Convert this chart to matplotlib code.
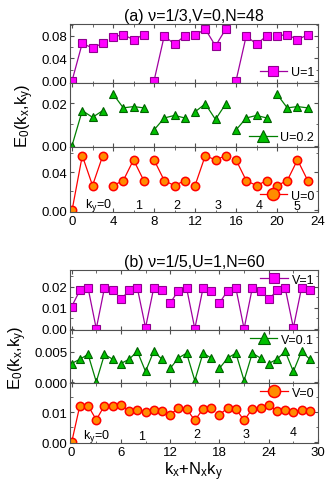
import matplotlib
matplotlib.use("Agg")
import matplotlib.pyplot as plt
from matplotlib.ticker import MultipleLocator
import numpy as np

plt.rcParams["font.family"] = ["Liberation Sans", "DejaVu Sans"]
plt.rcParams["mathtext.default"] = "regular"

# panel (a): nu=1/3, V=0, N=48, Nx=4
a_nx = 4
a_u1 = [0.0, 0.067, 0.058, 0.067, 0.078, 0.082, 0.073, 0.082,
        0.0, 0.080, 0.065, 0.080, 0.081, 0.092, 0.062, 0.092,
        0.0, 0.080, 0.065, 0.080, 0.080, 0.082, 0.073, 0.082]
a_u02 = [0.0, 0.0166, 0.0134, 0.0166, 0.0245, 0.0179, 0.0185, 0.0179,
         0.0074, 0.0131, 0.0143, 0.0131, 0.0160, 0.0198, 0.0124, 0.0198,
         0.0074, 0.0131, 0.0143, 0.0131, 0.0244, 0.0179, 0.0185, 0.0179]
a_u0 = [0.0, 0.0574, 0.0261, 0.0574, 0.0260, 0.0313, 0.0530, 0.0313,
        0.0530, 0.0313, 0.0260, 0.0313, 0.0260, 0.0574, 0.0530, 0.0574,
        0.0530, 0.0313, 0.0260, 0.0313, 0.0260, 0.0313, 0.0530, 0.0313]
a_ky_x = [2.6, 6.5, 10.2, 14.2, 18.3, 21.9]
a_ky_y = [0.006, 0.006, 0.006, 0.006, 0.006, 0.0042]

# panel (b): nu=1/5, U=1, N=60, Nx=6
b_nx = 6
b_v1 = [0.0105, 0.0182, 0.0194, 0.0, 0.0194, 0.0182,
        0.0139, 0.0182, 0.0194, 0.0005, 0.0194, 0.0182,
        0.0122, 0.0181, 0.0193, 0.0, 0.0193, 0.0180,
        0.0122, 0.0181, 0.0193, 0.0, 0.0193, 0.0180,
        0.0139, 0.0182, 0.0194, 0.0005, 0.0194, 0.0182]
b_v01 = [0.0031, 0.0038, 0.0046, 0.0001, 0.0046, 0.0038,
         0.0031, 0.0038, 0.0051, 0.0018, 0.0051, 0.0038,
         0.0023, 0.0040, 0.0048, 0.0003, 0.0048, 0.0040,
         0.0023, 0.0040, 0.0048, 0.0003, 0.0048, 0.0040,
         0.0031, 0.0038, 0.0051, 0.0018, 0.0051, 0.0038]
b_v0 = [0.0, 0.0122, 0.0122, 0.0075, 0.0122, 0.0122,
        0.0124, 0.0105, 0.0109, 0.0100, 0.0109, 0.0105,
        0.0091, 0.0115, 0.0111, 0.0073, 0.0111, 0.0115,
        0.0091, 0.0115, 0.0111, 0.0073, 0.0111, 0.0115,
        0.0124, 0.0105, 0.0109, 0.0100, 0.0109, 0.0105]
b_ky_x = [3.0, 8.5, 15.3, 21.2, 27.0]
b_ky_y = [0.0022, 0.0020, 0.0028, 0.0028, 0.0033]

STY = {
    "mag": dict(marker="s", color="#a000a0", mfc="#ff00ff", mec="#900090", ms=5.4, mew=0.8, lw=0.9),
    "grn": dict(marker="^", color="#008000", mfc="#00c000", mec="#006000", ms=6.4, mew=0.8, lw=0.9),
    "red": dict(marker="o", color="#ff0000", mfc="#ff8c00", mec="#ff0000", ms=6.0, mew=1.1, lw=0.9),
}
FRAME = "#505050"


def add_panel(fig, rect, vals, nx, sty, label, ylim, major, minor, xmax, xmajor, xminor,
              legloc, anchor, show_x=False):
    ax = fig.add_axes(rect)
    x = np.arange(len(vals))
    v = np.asarray(vals)
    h = None
    for g in range(0, len(vals), nx):
        ln, = ax.plot(x[g:g + nx], v[g:g + nx], **STY[sty])
        if h is None:
            h = ln
    ax.set_xlim(-0.2, xmax)
    ax.set_ylim(*ylim)
    ax.xaxis.set_major_locator(MultipleLocator(xmajor))
    ax.xaxis.set_minor_locator(MultipleLocator(xminor))
    ax.yaxis.set_major_locator(MultipleLocator(major))
    ax.yaxis.set_minor_locator(MultipleLocator(minor))
    ax.tick_params(which="both", direction="in", top=True, right=True, color=FRAME,
                   labelsize=9.5, pad=2)
    ax.tick_params(which="major", length=3)
    ax.tick_params(which="minor", length=1.8)
    if not show_x:
        ax.tick_params(labelbottom=False)
    for s in ax.spines.values():
        s.set_color(FRAME)
        s.set_linewidth(0.8)
    ax.legend([h], [label], loc=legloc, bbox_to_anchor=anchor, frameon=False,
              markerscale=1.45, fontsize=9, handlelength=2.2, handletextpad=0.3,
              borderaxespad=0.1, borderpad=0.2)
    return ax


fig = plt.figure(figsize=(3.32, 4.89), dpi=100)
L, W = 0.2108, 0.747

a1 = add_panel(fig, [L, 0.828, W, 0.1207], a_u1, a_nx, "mag", "U=1", (-0.004, 0.1008),
               0.04, 0.02, 24, 4, 2, "lower right", (1.0, 0.02))
a2 = add_panel(fig, [L, 0.6973, W, 0.1309], a_u02, a_nx, "grn", "U=0.2", (-0.0007, 0.0297),
               0.02, 0.01, 24, 4, 2, "lower right", (1.0, 0.0))
a3 = add_panel(fig, [L, 0.5644, W, 0.1329], a_u0, a_nx, "red", "U=0", (-0.0017, 0.0665),
               0.04, 0.02, 24, 4, 2, "lower right", (1.0, 0.1), show_x=True)
a1.set_title("(a) ν=1/3,V=0,N=48", fontsize=11.5, pad=3)
a2.set_ylabel("E$_0$(k$_x$,k$_y$)", fontsize=12, labelpad=4)
a1.yaxis.set_major_formatter(plt.FormatStrFormatter("%.2f"))
a2.yaxis.set_major_formatter(plt.FormatStrFormatter("%.2f"))
a3.yaxis.set_major_formatter(plt.FormatStrFormatter("%.2f"))
for i, (xx, yy) in enumerate(zip(a_ky_x, a_ky_y)):
    a3.text(xx, yy, "k$_y$=0" if i == 0 else str(i), ha="center", va="center", fontsize=9)

b1 = add_panel(fig, [L, 0.3231, W, 0.1227], b_v1, b_nx, "mag", "V=1", (-0.0006, 0.0279),
               0.01, 0.005, 30, 6, 3, "upper right", (1.0, 1.0))
b2 = add_panel(fig, [L, 0.2147, W, 0.1084], b_v01, b_nx, "grn", "V=0.1", (-0.0001, 0.0086),
               0.005, 0.0025, 30, 6, 3, "upper right", (1.0, 1.0))
b3 = add_panel(fig, [L, 0.092, W, 0.1227], b_v0, b_nx, "red", "V=0", (-0.0002, 0.0197),
               0.01, 0.005, 30, 6, 3, "upper right", (1.0, 1.0), show_x=True)
b1.set_title("(b) ν=1/5,U=1,N=60", fontsize=11.5, pad=3)
b2.set_ylabel("E$_0$(k$_x$,k$_y$)", fontsize=12, labelpad=4)
b1.yaxis.set_major_formatter(plt.FormatStrFormatter("%.2f"))
b2.yaxis.set_major_formatter(plt.FormatStrFormatter("%.3f"))
b3.yaxis.set_major_formatter(plt.FormatStrFormatter("%.2f"))
b3.set_xlabel("k$_x$+N$_x$k$_y$", fontsize=12, labelpad=1)
for i, (xx, yy) in enumerate(zip(b_ky_x, b_ky_y)):
    b3.text(xx, yy, "k$_y$=0" if i == 0 else str(i), ha="center", va="center", fontsize=9)

fig.savefig("out.png", dpi=100)
plt.close(fig)
